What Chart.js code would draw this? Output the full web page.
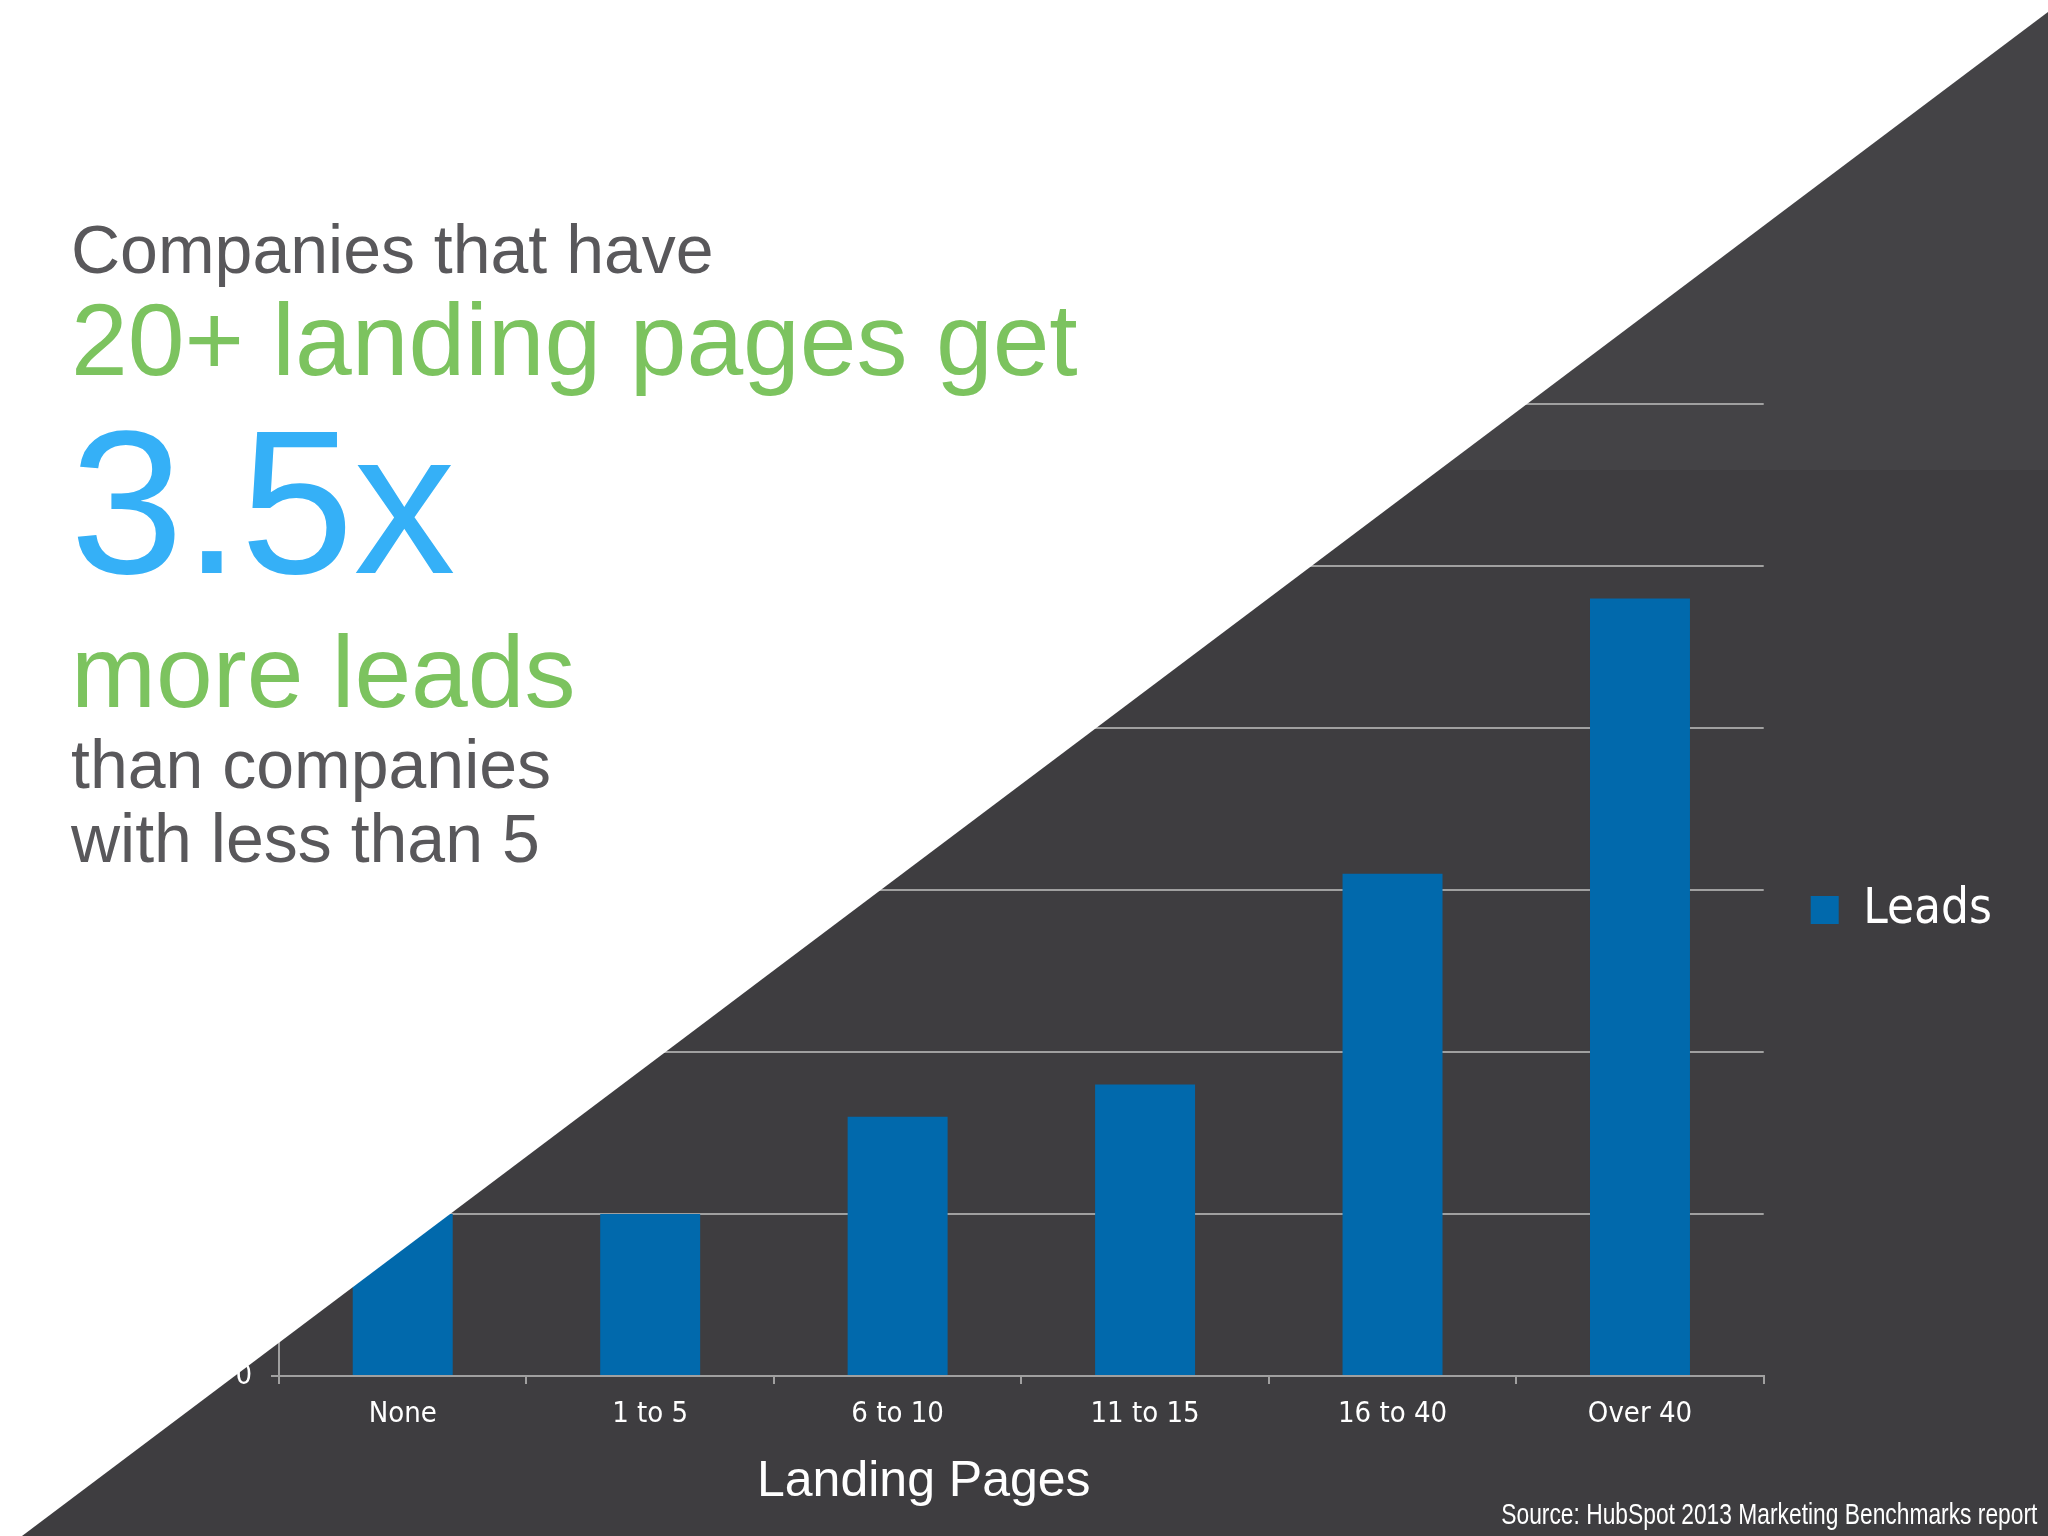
<!DOCTYPE html>
<html>
<head>
<meta charset="utf-8">
<script src="https://cdn.jsdelivr.net/npm/chart.js@4.4.1/dist/chart.umd.min.js"></script>
<style>
  html, body { margin: 0; padding: 0; }
  body { width: 2048px; height: 1536px; position: relative; overflow: hidden; background: #3e3d40; }
  .topBand { position: absolute; left: 0; top: 0; width: 2048px; height: 470px; background: #444346; }
  #leadsChart { position: absolute; left: 0; top: 0; }
  .whiteSide {
    position: absolute; left: 0; top: 0; width: 2048px; height: 1536px; background: #ffffff;
    clip-path: polygon(0 0, 2048px 0, 2048px 12px, 22px 1536px, 0 1536px);
  }
  .txt { position: absolute; white-space: nowrap; font-family: "Liberation Sans", Arial, sans-serif; line-height: 1; }
  .gray { color: #59585b; }
  .green { color: #7cc35f; }
  .blue { color: #35b0f7; }
  .source { right: 11px; top: 1499px; font-size: 30px; color: #ffffff; transform: scaleX(0.76); transform-origin: right center; }
</style>
</head>
<body>
<div class="topBand"></div>
<canvas id="leadsChart" width="2048" height="1536"></canvas>
<div class="whiteSide"></div>

<div class="txt gray" style="left:71px; top:215px; font-size:68px;">Companies that have</div>
<div class="txt green" style="left:71px; top:289px; font-size:102px;">20+ landing pages get</div>
<div class="txt blue" style="left:70px; top:400px; font-size:204px;">3.5x</div>
<div class="txt green" style="left:71px; top:621px; font-size:102px;">more leads</div>
<div class="txt gray" style="left:71px; top:730px; font-size:68px;">than companies</div>
<div class="txt gray" style="left:71px; top:804px; font-size:68px;">with less than 5</div>

<div class="txt" style="left:757px; top:1454px; font-size:50px; color:#ffffff;">Landing Pages</div>
<div class="txt source">Source: HubSpot 2013 Marketing Benchmarks report</div>

<script>
// values
const categories = ["None", "1 to 5", "6 to 10", "11 to 15", "16 to 40", "Over 40"];
const leads = [1.0, 1.0, 1.6, 1.8, 3.1, 4.8];
const yMin = 0;
const yMax = 6;
const yStep = 1;

const barBlue = "#0169ac";
const lineGray = "#a0a0a0";
const tickFont = "'DejaVu Sans Condensed', 'DejaVu Sans', sans-serif";

const ctx = document.getElementById("leadsChart").getContext("2d");
new Chart(ctx, {
  type: "bar",
  data: {
    labels: categories,
    datasets: [
      {
        label: "Leads",
        data: leads,
        backgroundColor: barBlue,
        borderWidth: 0,
        barPercentage: 0.404,
        categoryPercentage: 1.0,
      },
    ],
  },
  options: {
    responsive: false,
    animation: false,
    devicePixelRatio: 1,
    layout: { padding: { left: 100, top: 404, right: 46, bottom: 60 } },
    plugins: {
      tooltip: { enabled: false },
      legend: {
        position: "right",
        fullSize: false,
        // empty title only nudges the legend entry down a little
        title: { display: true, text: "", padding: 0, font: { size: 40, lineHeight: 1 } },
        labels: {
          color: "#ffffff",
          font: { family: tickFont, size: 49 },
          boxWidth: 28,
          boxHeight: 28,
          padding: 47,
        },
      },
    },
    scales: {
      x: {
        afterFit: (scale) => { scale.height = 100; },
        border: { color: lineGray, width: 2 },
        grid: { drawOnChartArea: false, drawTicks: true, tickLength: 8, color: lineGray, lineWidth: 2 },
        ticks: { color: "#ffffff", font: { family: tickFont, size: 29 }, padding: 13, maxRotation: 0 },
      },
      y: {
        min: yMin,
        max: yMax,
        afterFit: (scale) => { scale.width = 179; },
        border: { color: lineGray, width: 2 },
        grid: { color: lineGray, lineWidth: 2, drawTicks: true, tickLength: 8 },
        ticks: { stepSize: yStep, color: "#ffffff", font: { family: tickFont, size: 29 }, padding: 19 },
      },
    },
  },
});
</script>
</body>
</html>
